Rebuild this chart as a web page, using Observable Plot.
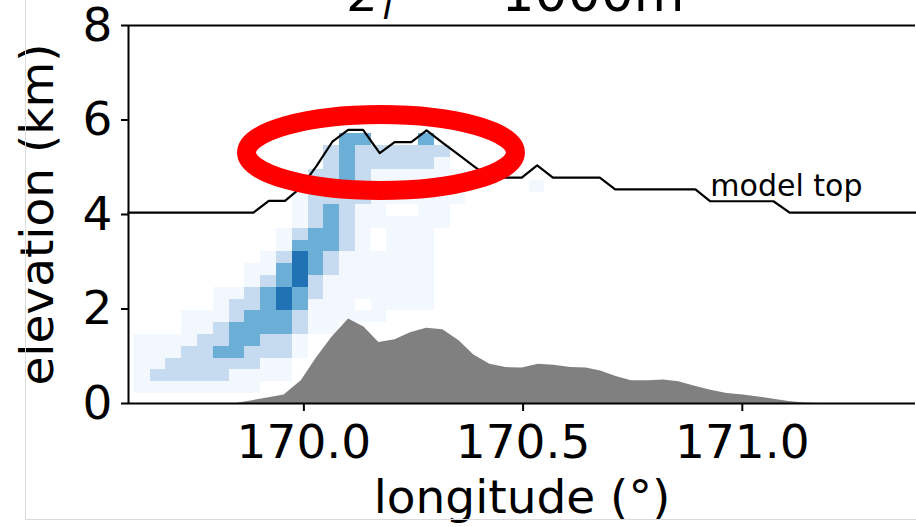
<!DOCTYPE html>
<html><head><meta charset="utf-8">
<script src="https://cdn.jsdelivr.net/npm/d3@7"></script>
<script src="https://cdn.jsdelivr.net/npm/@observablehq/plot@0.6"></script>
<style>
html,body{margin:0;padding:0;background:#fff;overflow:hidden}
#wrap{position:relative;width:916px;height:527px}
#border{position:absolute;left:25px;top:-2px;width:900px;height:521px;border-left:1px solid #dadada;border-bottom:1px solid #dadada;pointer-events:none}
</style></head><body><div id="wrap"><div id="chart"></div><div id="border"></div></div>
<script>
// ---- data ----
const xTicks = [170.0, 170.5, 171.0];
const yTicks = [0, 2, 4, 6, 8];

// 2D histogram (bin origin / bin size, counts level 0..4), bottom row first
const histLon0 = 169.6135, histDLon = 0.036;
const histElev0 = 0.21, histDElev = 0.25;
const histRows = [
  "11111111",
  "1222221111",
  "1122222211",
  "11122332221",
  "11112233221",
  "0001123333211",
  "0001112333211111",
  "0000012234311101111",
  "0000011234321111111",
  "0000000123421111111",
  "0000000113432111111",
  "0000000012432111111",
  "0000000001333210111",
  "0000000001233210111",
  "00000000001232111111",
  "00000000001232110011",
  "000000000012222111111",
  "00000000000222211111100001",
  "000000000002232111111",
  "00000000000023222221",
  "00000000000023222222",
  "0000000000000330003"
];

// model top line
const modelTopLon  = [169.60, 169.885, 169.92, 169.957, 169.993, 170.029, 170.065, 170.101, 170.135, 170.173, 170.207, 170.245, 170.28, 170.316, 170.352, 170.388, 170.424, 170.46, 170.497, 170.532, 170.568, 170.675, 170.71, 170.893, 170.927, 171.071, 171.108, 171.40];
const modelTopElev = [4.04, 4.04, 4.29, 4.29, 4.57, 5.03, 5.54, 5.79, 5.79, 5.30, 5.53, 5.53, 5.78, 5.52, 5.27, 5.02, 4.78, 4.78, 4.78, 5.04, 4.78, 4.78, 4.53, 4.53, 4.28, 4.28, 4.04, 4.04];

// terrain
const terrainLon  = [169.60, 169.845, 169.876, 169.92, 169.955, 169.994, 170.029, 170.064, 170.102, 170.137, 170.171, 170.208, 170.243, 170.280, 170.317, 170.354, 170.387, 170.424, 170.461, 170.498, 170.535, 170.570, 170.609, 170.644, 170.677, 170.712, 170.747, 170.786, 170.820, 170.855, 170.890, 170.928, 170.965, 171.002, 171.037, 171.072, 171.106, 171.141, 171.18, 171.395];
const terrainElev = [0, 0, 0.05, 0.12, 0.18, 0.48, 0.97, 1.40, 1.79, 1.62, 1.29, 1.35, 1.50, 1.59, 1.56, 1.33, 1.03, 0.83, 0.76, 0.75, 0.83, 0.81, 0.76, 0.75, 0.69, 0.57, 0.48, 0.48, 0.50, 0.46, 0.37, 0.28, 0.21, 0.18, 0.14, 0.09, 0.04, 0.01, 0, 0];

// annotations
const modelTopLabel = ["model top"];
const modelTopLabelPos = [170.927, 4.40];
const highlightCenter = [170.177, 5.30];
const highlightRadii = [0.3066, 0.805];
const levelColors = ["#f3f8fe", "#c6dbef", "#6baed6", "#2171b5"];

// ---- build tables ----
const cells = [];
histRows.forEach((row, j) => {
  for (let c = 0; c < row.length; c++) {
    const v = +row[c];
    if (v > 0) cells.push({
      x1: histLon0 + c * histDLon, x2: histLon0 + (c + 1) * histDLon,
      y1: histElev0 + j * histDElev, y2: histElev0 + (j + 1) * histDElev, level: v
    });
  }
});
const modelTop = modelTopLon.map((x, i) => ({x, y: modelTopElev[i]}));
const terrain = terrainLon.map((x, i) => ({x, y: terrainElev[i]}));

function highlightMark(index, scales) {
  const cx = scales.x(highlightCenter[0]), cy = scales.y(highlightCenter[1]);
  const rx = Math.abs(scales.x(highlightCenter[0] + highlightRadii[0]) - cx);
  const ry = Math.abs(scales.y(highlightCenter[1] + highlightRadii[1]) - cy);
  const el = document.createElementNS("http://www.w3.org/2000/svg", "ellipse");
  el.setAttribute("cx", cx); el.setAttribute("cy", cy);
  el.setAttribute("rx", rx); el.setAttribute("ry", ry);
  el.setAttribute("fill", "none"); el.setAttribute("stroke", "#ff0000");
  el.setAttribute("stroke-width", 19);
  return el;
}

const F = 47;
const chart = Plot.plot({
  width: 916, height: 527,
  marginLeft: 128, marginTop: 25, marginBottom: 124, marginRight: 1,
  style: {fontFamily: "DejaVu Sans", background: "transparent", overflow: "hidden"},
  x: {domain: [169.6, 171.395]},
  y: {domain: [0, 8]},
  color: {type: "ordinal", domain: [1, 2, 3, 4], range: levelColors},
  marks: [
    Plot.rect(cells, {x1: "x1", x2: "x2", y1: "y1", y2: "y2", fill: "level", shapeRendering: "crispEdges"}),
    Plot.areaY(terrain, {x: "x", y: "y", fill: "#808080"}),
    Plot.line(modelTop, {x: "x", y: "y", stroke: "black", strokeWidth: 2.2}),
    Plot.text(modelTopLabel, {x: () => modelTopLabelPos[0], y: () => modelTopLabelPos[1], text: d => d, textAnchor: "start", lineAnchor: "bottom", fontSize: 30}),
    highlightMark,
    Plot.ruleY([0], {stroke: "black", strokeWidth: 2}),
    Plot.ruleY([8], {stroke: "black", strokeWidth: 2}),
    Plot.ruleX([169.6], {stroke: "black", strokeWidth: 2}),
    Plot.axisX(xTicks, {tickSize: 8, tickPadding: 13, tickFormat: d3.format(".1f"), fontSize: F, strokeWidth: 2, label: null}),
    Plot.axisY(yTicks, {tickSize: 7, tickPadding: 9, fontSize: F, strokeWidth: 2, label: null}),
    Plot.text(["longitude (°)"], {frameAnchor: "bottom", dy: 109, lineAnchor: "bottom", fontSize: F, text: d => d}),
    Plot.text(["elevation (km)"], {frameAnchor: "left", dx: -76, rotate: -90, textAnchor: "middle", lineAnchor: "bottom", fontSize: F, text: d => d}),
    // title (cut off at the top, as in the reference)
    Plot.text(["z"], {frameAnchor: "top-left", dx: 221, dy: -15, lineAnchor: "bottom", textAnchor: "start", fontSize: 52, fontStyle: "italic", text: d => d}),
    Plot.text(["l"], {frameAnchor: "top-left", dx: 254, dy: -7, lineAnchor: "bottom", textAnchor: "start", fontSize: 36, fontStyle: "italic", text: d => d}),
    Plot.text(["="], {frameAnchor: "top-left", dx: 322, dy: -24, lineAnchor: "bottom", textAnchor: "middle", fontSize: 52, text: d => d}),
    Plot.text(["1000m"], {frameAnchor: "top-left", dx: 373, dy: -15, lineAnchor: "bottom", textAnchor: "start", fontSize: 52, text: d => d})
  ]
});
document.getElementById("chart").appendChild(chart);
</script></body></html>
